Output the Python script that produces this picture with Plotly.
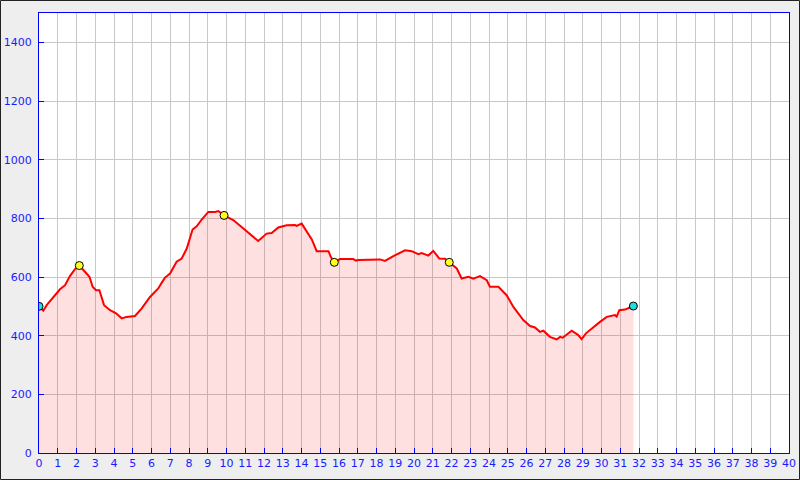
import plotly.graph_objects as go

# Elevation profile (distance km, elevation m)
dist = [0.0, 0.23, 0.41, 0.76, 1.12, 1.39, 1.65, 1.92, 2.15, 2.45, 2.69, 2.86, 3.04, 3.22,
        3.47, 3.79, 4.11, 4.41, 4.67, 5.12, 5.48, 5.92, 6.36, 6.54, 6.72, 6.99, 7.34, 7.61,
        7.88, 8.19, 8.41, 8.68, 9.03, 9.39, 9.56, 9.87, 10.19, 10.36, 10.9, 11.34, 11.69,
        12.14, 12.41, 12.76, 13.21, 13.65, 13.74, 14.01, 14.28, 14.55, 14.81, 15.35, 15.44,
        15.56, 15.75, 16.05, 16.76, 16.9, 17.03, 18.19, 18.45, 18.9, 19.52, 19.88, 20.23,
        20.41, 20.76, 21.03, 21.35, 21.65, 21.88, 22.28, 22.54, 22.9, 23.16, 23.52, 23.88,
        24.05, 24.5, 24.94, 25.3, 25.83, 26.19, 26.45, 26.72, 26.9, 27.25, 27.61, 27.79,
        27.93, 28.41, 28.76, 28.94, 29.17, 29.92, 30.28, 30.72, 30.81, 30.95, 31.25, 31.52,
        31.7]
elev = [500, 485, 504, 532, 558, 572, 603, 627, 639, 618, 601, 567, 555, 555,
        504, 487, 476, 459, 464, 467, 493, 532, 561, 580, 598, 612, 652, 663,
        697, 762, 773, 796, 822, 822, 825, 810, 800, 794, 765, 743, 723,
        748, 750, 769, 776, 777, 774, 782, 754, 728, 688, 686, 688,
        669, 650, 661, 661, 656, 658, 660, 655, 671, 691, 688, 678,
        682, 673, 689, 663, 662, 650, 629, 595, 601, 594, 603, 589,
        567, 567, 538, 498, 453, 433, 428, 413, 417, 396, 387, 396,
        393, 417, 402, 388, 408, 447, 464, 470, 465, 487, 489, 496,
        501]

# Markers
end_x = [0.0, 31.7]
end_y = [500, 501]
wp_x = [2.15, 9.87, 15.75, 21.88]
wp_y = [639, 810, 650, 650]

x_ticks = list(range(0, 41))
y_ticks = list(range(0, 1401, 200))

fig = go.Figure()
fig.add_trace(go.Scatter(x=dist, y=elev, mode="lines", fill="tozeroy",
                         fillcolor="rgba(255,0,0,0.12)",
                         line=dict(color="#ff0000", width=2), hoverinfo="skip"))
fig.add_trace(go.Scatter(x=end_x, y=end_y, mode="markers",
                         marker=dict(size=8, color="#22dddd", line=dict(color="black", width=1))))
fig.add_trace(go.Scatter(x=wp_x, y=wp_y, mode="markers",
                         marker=dict(size=8, color="#ffff22", line=dict(color="black", width=1))))

axis_common = dict(showline=True, linecolor="#0000ff", linewidth=1, mirror=True,
                   ticks="inside", ticklen=5, tickcolor="#0000ff", automargin=False,
                   showgrid=True, gridcolor="#c8c8c8", gridwidth=1, zeroline=False,
                   tickfont=dict(family="DejaVu Sans", size=11, color="#1a1aff"))

fig.update_xaxes(range=[0, 40], tickmode="array", tickvals=x_ticks,
                 ticktext=[str(v) for v in x_ticks], **axis_common)
fig.update_yaxes(range=[0, 1500], tickmode="array", tickvals=y_ticks,
                 ticktext=[str(v) for v in y_ticks], ticklabelstandoff=4, **axis_common)

W, H = 800, 480
L, T, R, B = 39, 13, 11, 27
pw, ph = W - L - R, H - T - B
fig.add_shape(type="rect", xref="paper", yref="paper",
              x0=(0.5 - L) / pw, x1=(W - 0.5 - L) / pw,
              y0=((T + ph) - (H - 0.5)) / ph,
              y1=((T + ph) - 0.5) / ph,
              line=dict(color="#222222", width=1), layer="below")

fig.update_layout(template="none", width=W, height=H, autosize=False,
                  margin=dict(l=L, r=R, t=T, b=B, pad=0),
                  paper_bgcolor="#eeeeee", plot_bgcolor="white",
                  showlegend=False)

fig.write_html("out.html", config={"displayModeBar": False},
               post_script="document.body.style.margin='0';document.body.style.overflow='hidden';")
